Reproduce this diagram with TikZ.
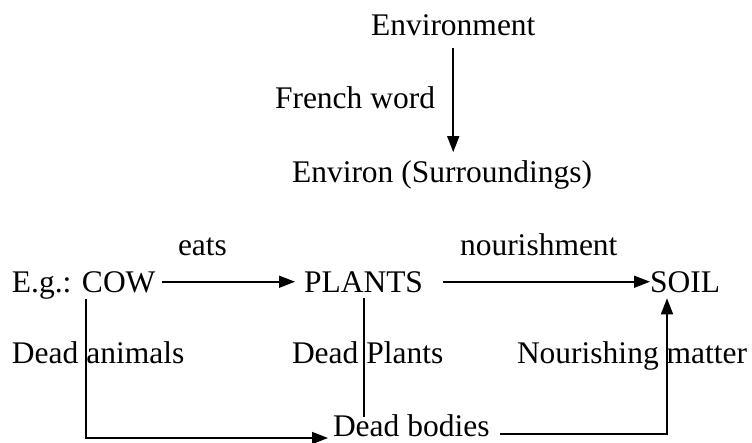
\documentclass[tikz,border=0pt]{standalone}
\usepackage{fontspec}
\setmainfont{Liberation Serif}
\usetikzlibrary{arrows.meta}
\begin{document}
\begin{tikzpicture}[x=1pt,y=-1pt,
  txt/.style={inner sep=0pt,outer sep=0pt,anchor=base west,font=\fontsize{31.5}{38}\selectfont},
  conn/.style={line width=1.6pt},
  arr/.style={conn,-{Triangle[length=16pt,width=12pt]}}]
\useasboundingbox[fill=white] (0,0) rectangle (752,442);
% texts
\node[txt] (env) at (371,35) {Environment};
\node[txt] (french) at (275,108) {French word};
\node[txt] (environ) at (292,182) {Environ (Surroundings)};
\node[txt] (eats) at (178,255) {eats};
\node[txt] (nour) at (460,255) {nourishment};
\node[txt] (eg) at (12,292) {E.g.: COW};
\node[txt] (plants) at (304,292) {PLANTS};
\node[txt] (soil) at (650,292) {SOIL};
\node[txt] (deadan) at (12,363) {Dead animals};
\node[txt] (deadpl) at (292,363) {Dead Plants};
\node[txt] (nourm) at (517,363) {Nourishing matter};
\node[txt] (deadb) at (333,436) {Dead bodies};
% connectors
\draw[arr] ([yshift=-13pt]env.south) -- ([yshift=8pt]environ.north -| env.south);
\draw[arr] ([xshift=7pt]eg.east |- plants.west) -- ([xshift=-9pt]plants.west);
\draw[arr] ([xshift=20pt]plants.east) -- (soil.west);
\draw[arr] ([xshift=74pt]eg.south west) |- ([xshift=-5pt,yshift=-2pt]deadb.base west);
\coordinate (pdrop) at ([xshift=60pt,yshift=-6pt]plants.south west);
\draw[conn] (pdrop) -- ([yshift=-3pt]pdrop |- deadb.north);
\draw[arr] ([xshift=10pt,yshift=2pt]deadb.base east) -| ([xshift=17pt,yshift=-6pt]soil.south west);
\end{tikzpicture}
\end{document}
